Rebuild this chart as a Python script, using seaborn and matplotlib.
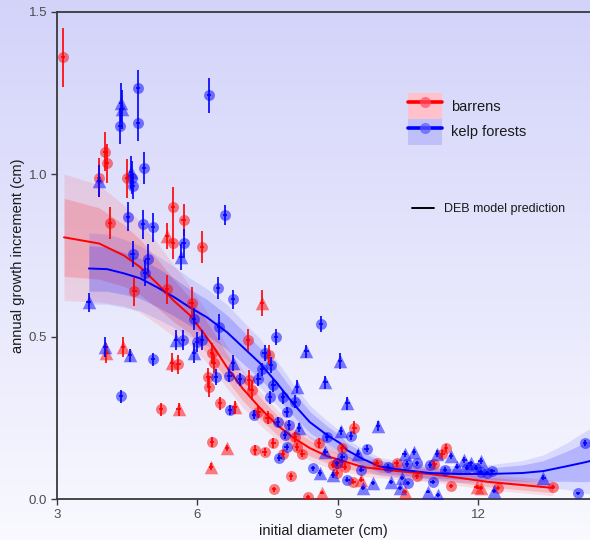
import numpy as np
import pandas as pd
import matplotlib
matplotlib.use("Agg")
import matplotlib.pyplot as plt
import seaborn as sns
from matplotlib.patches import Patch
from matplotlib.lines import Line2D

# ---------------- data ----------------
barren_x = [3.13, 4.03, 4.07, 3.90, 4.50, 5.48, 4.13, 5.71, 5.35, 5.48,
            6.10, 4.65, 5.35, 5.88, 4.05, 4.41, 6.31, 5.46, 5.59, 6.35,
            5.22, 5.60, 6.23, 6.25, 6.48, 6.31, 6.29, 6.63, 7.38, 7.08,
            7.53, 7.10, 7.16, 6.80, 7.30, 7.50, 7.62, 7.23, 7.44, 7.83,
            8.13, 8.00, 7.64, 8.08, 8.24, 8.60, 8.90, 8.36, 8.66, 9.35,
            9.10, 9.00, 8.98, 9.15, 9.33, 9.50, 9.83, 10.26, 10.69, 10.43,
            11.06, 11.31, 11.23, 11.42, 11.97, 12.05, 12.42, 13.60]
barren_y = [1.36, 1.07, 1.034, 0.99, 0.988, 0.90, 0.85, 0.86, 0.81, 0.79,
            0.776, 0.64, 0.646, 0.603, 0.45, 0.468, 0.45, 0.42, 0.415, 0.418,
            0.277, 0.277, 0.375, 0.345, 0.295, 0.175, 0.10, 0.157, 0.603, 0.49,
            0.443, 0.366, 0.335, 0.283, 0.268, 0.25, 0.172, 0.15, 0.145, 0.14,
            0.16, 0.07, 0.03, 0.19, 0.14, 0.172, 0.105, 0.006, 0.02, 0.22,
            0.157, 0.11, 0.08, 0.10, 0.053, 0.06, 0.11, 0.11, 0.07, 0.022,
            0.108, 0.157, 0.138, 0.04, 0.037, 0.034, 0.034, 0.037]
barren_err = [0.09, 0.06, 0.06, 0.06, 0.06, 0.06, 0.05, 0.05, 0.04, 0.05,
              0.05, 0.045, 0.045, 0.05, 0.03, 0.03, 0.03, 0.03, 0.03, 0.03,
              0.02, 0.02, 0.03, 0.03, 0.02, 0.015, 0.01, 0.01, 0.04, 0.035,
              0.03, 0.03, 0.03, 0.02, 0.02, 0.02, 0.015, 0.015, 0.012, 0.012,
              0.012, 0.01, 0.008, 0.015, 0.012, 0.015, 0.01, 0.005, 0.005, 0.02,
              0.012, 0.01, 0.01, 0.01, 0.008, 0.008, 0.01, 0.01, 0.008, 0.005,
              0.01, 0.012, 0.012, 0.006, 0.006, 0.006, 0.006, 0.006]
barren_shape = ["o", "o", "o", "o", "o", "o", "o", "o", "^", "o",
                "o", "o", "o", "o", "^", "^", "o", "^", "o", "o",
                "o", "^", "o", "o", "o", "o", "^", "^", "^", "o",
                "o", "o", "o", "^", "o", "o", "o", "o", "o", "o",
                "o", "o", "o", "o", "o", "o", "o", "o", "^", "o",
                "o", "o", "o", "o", "o", "^", "o", "o", "o", "^",
                "o", "o", "o", "o", "^", "^", "o", "o"]

kelp_x = [4.37, 4.39, 4.73, 6.25, 4.35, 4.73, 3.90, 4.86, 4.58, 4.60,
          4.62, 4.52, 4.84, 5.05, 6.59, 5.71, 5.65, 4.62, 4.94, 4.88,
          6.44, 5.93, 6.46, 3.68, 4.03, 4.56, 5.05, 5.54, 5.69, 5.99,
          6.10, 5.93, 4.37, 6.40, 6.76, 7.68, 6.76, 7.44, 7.57, 7.38,
          6.68, 6.91, 7.30, 7.62, 8.13, 7.55, 7.83, 6.70, 7.91, 7.21,
          7.72, 7.96, 7.87, 7.91, 7.75, 8.08, 8.17, 8.33, 8.73, 9.05,
          8.64, 9.20, 8.77, 8.73, 8.98, 8.47, 8.62, 8.90, 9.86, 9.28,
          9.07, 9.62, 9.43, 9.10, 9.20, 9.50, 9.54, 9.75, 10.07, 10.14,
          10.43, 10.63, 10.48, 10.69, 10.50, 10.37, 10.33, 10.97, 11.12, 11.42,
          11.03, 10.93, 11.14, 11.55, 11.29, 12.05, 11.84, 11.70, 11.76, 11.95,
          12.05, 12.18, 12.30, 13.39, 12.34, 14.28, 14.13]
kelp_y = [1.22, 1.20, 1.265, 1.243, 1.148, 1.157, 0.98, 1.02, 1.006, 0.99,
          0.963, 0.87, 0.846, 0.837, 0.875, 0.787, 0.745, 0.756, 0.74, 0.697,
          0.65, 0.554, 0.53, 0.606, 0.468, 0.443, 0.43, 0.49, 0.49, 0.484,
          0.49, 0.45, 0.317, 0.375, 0.615, 0.50, 0.418, 0.45, 0.412, 0.40,
          0.38, 0.369, 0.369, 0.35, 0.345, 0.314, 0.314, 0.274, 0.268, 0.26,
          0.237, 0.228, 0.197, 0.16, 0.126, 0.30, 0.22, 0.455, 0.36, 0.425,
          0.54, 0.295, 0.19, 0.145, 0.11, 0.095, 0.08, 0.074, 0.225, 0.194,
          0.21, 0.155, 0.14, 0.13, 0.06, 0.09, 0.034, 0.05, 0.10, 0.053,
          0.138, 0.145, 0.108, 0.11, 0.05, 0.065, 0.034, 0.105, 0.14, 0.132,
          0.053, 0.022, 0.012, 0.10, 0.09, 0.117, 0.11, 0.12, 0.096, 0.096,
          0.083, 0.08, 0.086, 0.065, 0.025, 0.172, 0.018]
kelp_err = [0.06, 0.06, 0.055, 0.055, 0.055, 0.055, 0.05, 0.05, 0.05, 0.05,
            0.04, 0.045, 0.045, 0.045, 0.03, 0.045, 0.04, 0.04, 0.045, 0.04,
            0.035, 0.035, 0.04, 0.03, 0.03, 0.02, 0.02, 0.03, 0.03, 0.03,
            0.03, 0.03, 0.02, 0.025, 0.03, 0.025, 0.025, 0.025, 0.025, 0.02,
            0.02, 0.02, 0.02, 0.02, 0.02, 0.02, 0.02, 0.015, 0.015, 0.015,
            0.015, 0.015, 0.012, 0.01, 0.01, 0.02, 0.015, 0.02, 0.02, 0.025,
            0.025, 0.02, 0.012, 0.01, 0.008, 0.008, 0.008, 0.008, 0.015, 0.012,
            0.012, 0.01, 0.01, 0.01, 0.008, 0.008, 0.006, 0.006, 0.008, 0.006,
            0.01, 0.01, 0.008, 0.008, 0.006, 0.006, 0.006, 0.008, 0.01, 0.01,
            0.006, 0.005, 0.005, 0.008, 0.008, 0.008, 0.008, 0.008, 0.008, 0.008,
            0.006, 0.006, 0.006, 0.008, 0.005, 0.01, 0.005]
kelp_shape = ["^", "^", "o", "o", "o", "o", "^", "o", "^", "o",
              "o", "o", "o", "o", "o", "o", "^", "o", "o", "o",
              "o", "o", "o", "^", "^", "^", "o", "^", "o", "o",
              "o", "^", "o", "o", "o", "o", "^", "o", "o", "o",
              "o", "o", "o", "o", "^", "o", "o", "o", "o", "o",
              "o", "o", "o", "o", "o", "o", "^", "^", "^", "^",
              "o", "^", "o", "^", "o", "o", "^", "^", "^", "o",
              "^", "o", "^", "o", "o", "o", "^", "^", "o", "^",
              "^", "^", "o", "o", "o", "^", "^", "o", "^", "^",
              "o", "^", "^", "^", "o", "^", "^", "^", "o", "o",
              "o", "o", "o", "^", "^", "o", "o"]

# DEB model predictions (fit and credible band half-widths)
barren_fit_x = [3.15, 3.9, 4.43, 4.77, 5.14, 5.5, 5.84, 6.14, 6.35, 6.63,
                6.97, 7.34, 7.7, 8.04, 8.4, 8.77, 9.05, 9.54, 10.26, 10.97,
                11.6, 12.2, 12.94, 13.6]
barren_fit = [0.806, 0.787, 0.75, 0.715, 0.664, 0.61, 0.566, 0.51, 0.468, 0.406,
              0.34, 0.28, 0.228, 0.19, 0.157, 0.132, 0.12, 0.098, 0.086, 0.077,
              0.065, 0.053, 0.043, 0.034]
barren_inner = [0.12, 0.11, 0.095, 0.085, 0.075, 0.065, 0.055, 0.05, 0.045, 0.04,
                0.037, 0.033, 0.03, 0.027, 0.024, 0.021, 0.02, 0.018, 0.016, 0.015,
                0.015, 0.015, 0.015, 0.015]
barren_outer = [0.195, 0.18, 0.155, 0.14, 0.125, 0.11, 0.09, 0.08, 0.072, 0.065,
                0.058, 0.052, 0.047, 0.042, 0.038, 0.034, 0.031, 0.028, 0.026, 0.024,
                0.024, 0.024, 0.024, 0.024]

kelp_fit_x = [3.68, 4.07, 4.43, 4.77, 5.14, 5.5, 5.84, 6.2, 6.63, 6.97,
              7.34, 7.7, 8.04, 8.4, 8.77, 9.05, 9.2, 9.54, 9.9, 10.26,
              10.97, 11.6, 12.2, 12.94, 13.39, 13.86, 14.28, 14.39]
kelp_fit = [0.71, 0.708, 0.695, 0.68, 0.652, 0.622, 0.59, 0.56, 0.514, 0.468,
            0.418, 0.357, 0.295, 0.237, 0.197, 0.172, 0.15, 0.123, 0.10, 0.092,
            0.08, 0.077, 0.077, 0.08, 0.086, 0.10, 0.113, 0.117]
kelp_inner = [0.07, 0.068, 0.065, 0.062, 0.06, 0.058, 0.056, 0.055, 0.053, 0.05,
              0.047, 0.043, 0.038, 0.033, 0.028, 0.024, 0.022, 0.02, 0.018, 0.017,
              0.016, 0.016, 0.018, 0.025, 0.032, 0.045, 0.06, 0.062]
kelp_outer = [0.11, 0.108, 0.105, 0.1, 0.097, 0.094, 0.09, 0.088, 0.085, 0.08,
              0.075, 0.068, 0.06, 0.052, 0.044, 0.038, 0.035, 0.031, 0.028, 0.026,
              0.025, 0.025, 0.028, 0.038, 0.05, 0.07, 0.095, 0.1]

habitats = ["barrens", "kelp forests"]
x_ticks = [3, 6, 9, 12]
y_ticks = [0.0, 0.5, 1.0, 1.5]
y_ticklabels = ["0.0", "0.5", "1.0", "1.5"]
XERR = 0.05

for a, b in [(barren_x, barren_y), (barren_x, barren_err), (barren_x, barren_shape),
             (kelp_x, kelp_y), (kelp_x, kelp_err), (kelp_x, kelp_shape)]:
    assert len(a) == len(b), (len(a), len(b))

pts = pd.concat([
    pd.DataFrame({"diameter": barren_x, "growth": barren_y, "err": barren_err,
                  "shape": barren_shape, "habitat": "barrens"}),
    pd.DataFrame({"diameter": kelp_x, "growth": kelp_y, "err": kelp_err,
                  "shape": kelp_shape, "habitat": "kelp forests"}),
], ignore_index=True)

fits = {
    "barrens": pd.DataFrame({"x": barren_fit_x, "fit": barren_fit,
                             "inner": barren_inner, "outer": barren_outer}),
    "kelp forests": pd.DataFrame({"x": kelp_fit_x, "fit": kelp_fit,
                                  "inner": kelp_inner, "outer": kelp_outer}),
}

# ---------------- style ----------------
sns.set_style("ticks")
plt.rcParams["font.family"] = ["Liberation Sans", "DejaVu Sans"]

palette = {"barrens": "#ff0000", "kelp forests": "#0000ff"}
band_alpha = {"barrens": (0.10, 0.17), "kelp forests": (0.10, 0.17)}

fig = plt.figure(figsize=(5.9, 5.4), dpi=100)

# background gradient over the whole figure
bg = fig.add_axes([0, 0, 1, 1], zorder=-10)
t = np.linspace(0, 1, 256)[:, None, None]
top_c = np.array([211, 211, 250]) / 255
bot_c = np.array([249, 249, 255]) / 255
img = top_c + (bot_c - top_c) * t
bg.imshow(img, aspect="auto", extent=[0, 1, 0, 1], origin="upper")
bg.axis("off")

W, H = 590, 540
ax = fig.add_axes([57 / W, 1 - 499 / H, 1 - 57 / W, (499 - 12) / H])
ax.set_facecolor("none")

# bands and model lines
for hab in habitats:
    d = fits[hab]
    c = palette[hab]
    a_out, a_in = band_alpha[hab]
    ax.fill_between(d["x"], d["fit"] - d["outer"], d["fit"] + d["outer"],
                    color=c, alpha=a_out, lw=0, zorder=1)
    ax.fill_between(d["x"], d["fit"] - d["inner"], d["fit"] + d["inner"],
                    color=c, alpha=a_in, lw=0, zorder=1)
for hab in habitats:
    d = fits[hab]
    sns.lineplot(data=d, x="x", y="fit", color=palette[hab], lw=1.4,
                 ax=ax, zorder=2, legend=False)

# points
for hab in habitats:
    sub = pts[pts["habitat"] == hab]
    for shp, size in [("o", 62), ("^", 95)]:
        s2 = sub[sub["shape"] == shp]
        sns.scatterplot(data=s2, x="diameter", y="growth", color=palette[hab],
                        marker=shp, s=size, alpha=0.5, linewidth=0,
                        ax=ax, zorder=3, legend=False)
    ax.errorbar(sub["diameter"], sub["growth"], yerr=sub["err"], xerr=XERR,
                fmt="none", ecolor=palette[hab], elinewidth=1.2, capsize=0,
                zorder=4)

# axes
ax.set_xlim(3, 3 + (590 - 57) / 46.8)
ax.set_ylim(0, 1.5)
ax.set_xticks(x_ticks)
ax.set_xticklabels([str(v) for v in x_ticks])
ax.set_yticks(y_ticks)
ax.set_yticklabels(y_ticklabels)
for s in ["left", "bottom", "top"]:
    ax.spines[s].set_color("#3a3a3a")
    ax.spines[s].set_linewidth(1.3)
ax.spines["right"].set_visible(False)
ax.tick_params(direction="out", length=4, width=1, color="#3a3a3a",
               labelcolor="#4d4d4d", labelsize=9.5, pad=3)
ax.set_xlabel("initial diameter (cm)", fontsize=10.5, color="#1a1a1a", labelpad=2)
ax.set_ylabel("annual growth increment (cm)", fontsize=10.5, color="#1a1a1a",
              labelpad=2.5)

# legends
h_red = (Patch(facecolor="#ffc2cc", edgecolor="none"),
         Line2D([], [], color="#ff0000", lw=2.6, marker="o", ms=8,
                mfc=(1, 0.3, 0.4, 0.7), mec="none"))
h_blue = (Patch(facecolor="#bfbffa", edgecolor="none"),
          Line2D([], [], color="#0000ff", lw=2.6, marker="o", ms=8,
                 mfc=(0.35, 0.35, 1, 0.7), mec="none"))
fig.legend([h_red, h_blue], habitats, loc="upper left",
           bbox_to_anchor=(401 / W, 1 - 86 / H), bbox_transform=fig.transFigure,
           frameon=False, fontsize=10.5, borderpad=0, labelspacing=0,
           handlelength=2.33, handleheight=2.33, handletextpad=0.6,
           labelcolor="#1a1a1a")
fig.legend([Line2D([], [], color="black", lw=1.4)], ["DEB model prediction"],
           loc="center left", bbox_to_anchor=(406 / W, 1 - 209 / H),
           bbox_transform=fig.transFigure, frameon=False, fontsize=9,
           borderpad=0, handlelength=1.7, handletextpad=0.85,
           labelcolor="#1a1a1a")

fig.savefig("out.png", dpi=100)
